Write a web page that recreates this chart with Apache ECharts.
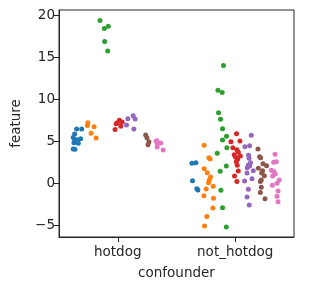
<!DOCTYPE html>
<html><head><meta charset="utf-8">
<script src="https://cdn.jsdelivr.net/npm/echarts@6/dist/echarts.min.js"></script>
<style>html,body{margin:0;padding:0;background:#fff}#c{width:330px;height:290px}</style>
</head><body><div id="c"></div><script>
const categories = ['hotdog', 'not_hotdog'];
const yTicks = [-5, 0, 5, 10, 15, 20];
const hueNames = ['0', '1', '2', '3', '4', '5', '6'];
const colors = ['#1f77b4', '#ff7f0e', '#2ca02c', '#d62728', '#9467bd', '#8c564b', '#e377c2'];

// hotdog values and horizontal jitter (category units), per hue
const hotdog0 = [6.46, 6.46, 5.87, 5.47, 5.15, 5.2, 5.3, 4.83, 4.76, 4.08, 4.05];
const hotdog0Jit = [-0.007, 0.036, -0.024, -0.036, -0.024, -0.002, 0.027, -0.03, 0.007, -0.036, -0.021];
const hotdog1 = [7.2, 6.9, 6.74, 5.95, 5.4];
const hotdog1Jit = [-0.026, -0.03, 0.027, 0.002, 0.044];
const hotdog2 = [19.4, 18.45, 18.7, 16.9, 15.75];
const hotdog2Jit = [-0.037, 0, 0.034, 0.003, 0.029];
const hotdog3 = [6.4, 7.2, 7.5, 7.3, 6.8, 7.1];
const hotdog3Jit = [-0.023, -0.003, 0.014, 0.037, 0.026, -0.014];
const hotdog4 = [7.7, 8.05, 7.65, 6.95, 6.46];
const hotdog4Jit = [-0.028, 0.017, 0.034, -0.04, 0.023];
const hotdog5 = [5.75, 5.43, 4.95, 4.6];
const hotdog5Jit = [0.009, 0.02, 0.037, 0.029];
const hotdog6 = [5.07, 4.8, 4.7, 4.32, 3.96, 5.0];
const hotdog6Jit = [-0.01, 0.024, -0.005, -0.008, 0.043, -0.016];

// not_hotdog values and jitter, per hue
const notHotdog0 = [2.38, 2.45, 0.31, -0.64, -0.8];
const notHotdog0Jit = [-0.026, 0.008, -0.021, 0.016, 0.025];
const notHotdog1 = [4.52, 3.05, 2.9, 1.74, 1.26, 0.75, 0.39, 0.07, -0.36, -0.68, -1.47, -1.79, -2.94, -3.97, -5.1];
const notHotdog1Jit = [-0.036, 0.004, 0.015, -0.036, -0.01, 0.018, 0.007, 0.001, 0.041, -0.019, -0.038, 0.043, 0.038, -0.013, -0.033];
const notHotdog2 = [14.05, 11.1, 10.83, 8.4, 7.62, 6.5, 5.6, 5.15, 4.24, 3.57, 2.06, 1.43, -0.83, -2.9, -5.2];
const notHotdog2Jit = [0.014, -0.033, 0.003, -0.028, -0.011, 0.006, 0.04, 0.006, 0.043, -0.039, 0.038, -0.014, -0.008, 0.006, 0.038];
const notHotdog3 = [5.9, 4.95, 5.04, 4.24, 4.0, 3.7, 3.4, 3.25, 3.1, 2.86, 2.57, 2.14, 1.46, 0.87, 0.2];
const notHotdog3Jit = [0.011, -0.037, 0.04, -0.02, 0.014, 0.026, -0.009, 0.043, 0.003, 0.02, 0.009, 0.017, 0.026, -0.006, 0.014];
const notHotdog4 = [5.71, 4.36, 4.48, 3.33, 2.98, 2.45, 2.18, 2.05, 1.86, 1.5, 1.23, 0.55, 0.27, -0.71, -1.63, -2.58];
const notHotdog4Jit = [0.022, -0.032, 0.008, -0.001, 0.003, 0.016, -0.003, 0.008, -0.012, 0.039, -0.014, 0.028, -0.035, -0.003, -0.014, 0.005];
const notHotdog5 = [4.08, 3.17, 3.05, 2.33, 2.1, 1.79, 1.5, 1.23, 0.9, 0.39, 0.2, -0.48, -1.11, -1.83];
const notHotdog5Jit = [-0.035, -0.021, -0.013, 0.008, 0.038, -0.032, 0.004, -0.004, 0.019, -0.007, -0.015, -0.007, -0.015, 0.025];
const notHotdog6 = [3.45, 2.5, 2.57, 1.55, 1.4, 1.1, 0.87, 0.39, 0.0, -0.24, -0.92, -1.55, -2.19];
const notHotdog6Jit = [-0.004, -0.016, 0.007, -0.036, -0.016, -0.002, -0.025, 0.032, 0.013, -0.027, 0.021, 0.013, 0.021];

const hotdogVals = [hotdog0, hotdog1, hotdog2, hotdog3, hotdog4, hotdog5, hotdog6];
const hotdogJits = [hotdog0Jit, hotdog1Jit, hotdog2Jit, hotdog3Jit, hotdog4Jit, hotdog5Jit, hotdog6Jit];
const notVals = [notHotdog0, notHotdog1, notHotdog2, notHotdog3, notHotdog4, notHotdog5, notHotdog6];
const notJits = [notHotdog0Jit, notHotdog1Jit, notHotdog2Jit, notHotdog3Jit, notHotdog4Jit, notHotdog5Jit, notHotdog6Jit];

const nHue = hueNames.length;
const dodgeWidth = 0.8;
const font = 'DejaVu Sans';
const fs = 13.5;
const ink = '#262626';

const series = hueNames.map((name, i) => {
  const off = -dodgeWidth / 2 + (i + 0.5) * dodgeWidth / nHue;
  const data = [];
  hotdogVals[i].forEach((v, k) => data.push([0 + off + hotdogJits[i][k], v]));
  notVals[i].forEach((v, k) => data.push([1 + off + notJits[i][k], v]));
  return {
    name: name, type: 'scatter', data: data, symbolSize: 5,
    itemStyle: {color: colors[i], opacity: 1}, silent: true
  };
});

const chart = echarts.init(document.getElementById('c'), null, {renderer: 'canvas'});
chart.setOption({
  animation: false,
  backgroundColor: '#fff',
  grid: {left: 59, right: 36, top: 10, bottom: 53, show: true, borderColor: ink, borderWidth: 1, backgroundColor: 'transparent'},
  xAxis: {
    type: 'value', min: -0.5, max: 1.5,
    name: 'confounder', nameLocation: 'middle', nameGap: 29,
    nameTextStyle: {fontFamily: font, fontSize: fs, color: ink},
    axisLine: {show: true, onZero: false, lineStyle: {color: ink, width: 1}},
    axisTick: {show: true, length: 5, lineStyle: {color: ink, width: 1}, customValues: [0, 1]},
    axisLabel: {customValues: [0, 1], margin: 8, fontFamily: font, fontSize: fs, color: ink,
      formatter: v => categories[Math.round(v)]},
    splitLine: {show: false}
  },
  yAxis: {
    type: 'value', min: -6.4, max: 20.65,
    name: 'feature', nameLocation: 'middle', nameGap: 36, nameRotate: 90,
    nameTextStyle: {fontFamily: font, fontSize: fs, color: ink},
    axisLine: {show: true, onZero: false, lineStyle: {color: ink, width: 1}},
    axisTick: {show: true, length: 5, lineStyle: {color: ink, width: 1}, customValues: yTicks},
    axisLabel: {customValues: yTicks, margin: 4, fontFamily: font, fontSize: fs, color: ink,
      formatter: v => String(v).replace('-', '\u2212')},
    splitLine: {show: false}
  },
  series: series
});
</script></body></html>
